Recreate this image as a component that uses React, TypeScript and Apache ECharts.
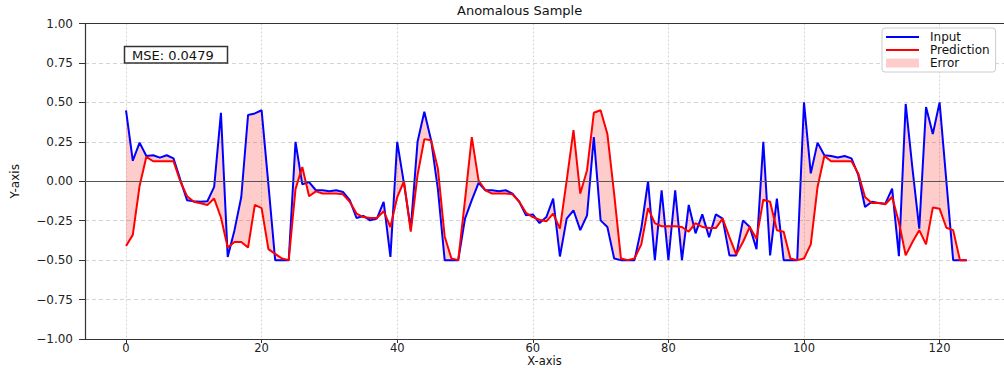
import React, { useEffect, useRef } from "react";
import * as echarts from "echarts";

const FONT = "DejaVu Sans";

const inputValues: number[] = [
  0.45, 0.13, 0.245, 0.16, 0.165, 0.15, 0.165, 0.145, 0.01, -0.12,
  -0.127, -0.13, -0.127, -0.036, 0.434, -0.48, -0.31, -0.1, 0.42, 0.43,
  0.45, -0.02, -0.5, -0.5, -0.5, 0.25, -0.02, -0.005, -0.057, -0.057,
  -0.064, -0.057, -0.068, -0.12, -0.233, -0.22, -0.248, -0.237, -0.13, -0.48,
  0.25, -0.015, -0.3, 0.25, 0.44, 0.26, -0.05, -0.5, -0.5, -0.5,
  -0.237, -0.12, -0.01, -0.057, -0.057, -0.064, -0.057, -0.078, -0.13, -0.216,
  -0.21, -0.265, -0.227, -0.11, -0.477, -0.237, -0.184, -0.31, -0.216, 0.28,
  -0.248, -0.29, -0.49, -0.5, -0.5, -0.5, -0.3, 0.0, -0.5, -0.057,
  -0.5, -0.057, -0.5, -0.15, -0.33, -0.21, -0.354, -0.21, -0.237, -0.47,
  -0.47, -0.248, -0.29, -0.43, 0.25, -0.47, -0.11, -0.5, -0.5, -0.5,
  0.5, 0.05, 0.245, 0.165, 0.16, 0.15, 0.16, 0.145, 0.04, -0.163,
  -0.13, -0.138, -0.142, -0.047, -0.475, 0.49, 0.08, -0.3, 0.47, 0.3,
  0.5, 0.0, -0.5, -0.5, -0.5,
];

const predictionValues: number[] = [
  -0.41, -0.34, -0.03, 0.155, 0.127, 0.127, 0.127, 0.127, 0.0, -0.095,
  -0.13, -0.14, -0.15, -0.11, -0.23, -0.42, -0.385, -0.385, -0.42, -0.15,
  -0.17, -0.43, -0.46, -0.49, -0.5, -0.05, 0.09, -0.095, -0.064, -0.078,
  -0.078, -0.078, -0.083, -0.13, -0.205, -0.227, -0.233, -0.233, -0.19, -0.29,
  -0.1, 0.0, -0.32, 0.04, 0.267, 0.26, 0.08, -0.35, -0.49, -0.5,
  -0.12, 0.28, 0.005, -0.057, -0.078, -0.078, -0.078, -0.083, -0.13, -0.2,
  -0.227, -0.244, -0.254, -0.205, -0.3, 0.005, 0.324, -0.078, 0.07, 0.434,
  0.45, 0.3, -0.08, -0.49, -0.5, -0.49, -0.4, -0.17, -0.265, -0.286,
  -0.286, -0.286, -0.29, -0.32, -0.265, -0.29, -0.297, -0.297, -0.237, -0.354,
  -0.464, -0.385, -0.29, -0.364, -0.117, -0.13, -0.31, -0.32, -0.49, -0.5,
  -0.49, -0.4, -0.036, 0.16, 0.127, 0.127, 0.127, 0.127, 0.05, -0.1,
  -0.138, -0.138, -0.146, -0.1, -0.26, -0.47, -0.385, -0.31, -0.4, -0.167,
  -0.174, -0.295, -0.31, -0.5, -0.5,
];

const xTicks: number[] = [0, 20, 40, 60, 80, 100, 120];
const seriesNames = ["Input", "Prediction", "Error"];
const titleText = "Anomalous Sample";
const mseText = "MSE: 0.0479";
const xName = "X-axis";
const yName = "Y-axis";

const fmtY = (v: number) => v.toFixed(2).replace("-", "\u2212");

export default function App() {
  const ref = useRef<HTMLDivElement>(null);

  useEffect(() => {
    if (!ref.current) return;
    const chart = echarts.init(ref.current, undefined, { renderer: "svg" });

    const inputData = inputValues.map((v, i) => [i, v]);
    const predData = predictionValues.map((v, i) => [i, v]);

    const option: any = {
      animation: false,
      backgroundColor: "#ffffff",
      title: {
        text: titleText,
        left: 457,
        top: 4,
        padding: 0,
        textStyle: { fontFamily: FONT, fontSize: 13, fontWeight: "normal", color: "#111" },
      },
      legend: {
        orient: "vertical",
        left: 882,
        top: 28,
        itemWidth: 33,
        itemHeight: 9,
        itemGap: 1,
        padding: [3, 6, 3, 4],
        borderColor: "#cccccc",
        borderWidth: 1,
        borderRadius: 3,
        backgroundColor: "#ffffff",
        textStyle: { fontFamily: FONT, fontSize: 12, color: "#111", padding: [0, 0, 0, 6] },
        data: [
          { name: seriesNames[0], icon: "path://M0,0L33,0L33,2L0,2Z" },
          { name: seriesNames[1], icon: "path://M0,0L33,0L33,2L0,2Z" },
          { name: seriesNames[2], icon: "rect" },
        ],
      },
      grid: {
        left: 85,
        right: 0,
        top: 23.5,
        bottom: 29,
        containLabel: false,
        outerBoundsMode: "none",
      },
      xAxis: [
        {
          type: "value",
          min: -6.05,
          max: 129.5,
          minInterval: 20,
          maxInterval: 20,
          name: xName,
          nameLocation: "middle",
          nameGap: 16,
          nameMoveOverlap: false,
          nameTextStyle: { fontFamily: FONT, fontSize: 11.5, color: "#111", lineHeight: 12 },
          axisLine: { show: true, onZero: false, lineStyle: { color: "#333", width: 1.2 } },
          axisTick: { show: true, length: 4, customValues: xTicks, lineStyle: { color: "#333" } },
          axisLabel: {
            margin: 3,
            fontFamily: FONT,
            fontSize: 11.5,
            lineHeight: 12,
            color: "#222",
            customValues: xTicks,
            formatter: (v: number) => (Math.abs(v % 20) < 1e-6 ? String(Math.round(v)) : ""),
          },
          splitLine: { show: true, lineStyle: { color: "#d4d4d4", type: [2, 2], width: 1 } },
        },
        {
          type: "value",
          position: "top",
          min: -6.05,
          max: 129.5,
          axisLine: { show: true, onZero: false, lineStyle: { color: "#333", width: 1.2 } },
          axisTick: { show: false },
          axisLabel: { show: false },
          splitLine: { show: false },
        },
      ],
      yAxis: {
        type: "value",
        min: -1,
        max: 1,
        interval: 0.25,
        name: yName,
        nameLocation: "middle",
        nameGap: 64,
        nameMoveOverlap: false,
        nameTextStyle: { fontFamily: FONT, fontSize: 12, color: "#111" },
        axisLine: { show: true, onZero: false, lineStyle: { color: "#333", width: 1.2 } },
        axisTick: { show: true, length: 6, lineStyle: { color: "#333" } },
        axisLabel: { margin: 12, fontFamily: FONT, fontSize: 12, color: "#222", formatter: fmtY },
        splitLine: { show: true, lineStyle: { color: "#d4d4d4", type: [4, 3], width: 1 } },
      },
      series: [
        {
          name: seriesNames[2],
          type: "custom",
          silent: true,
          itemStyle: { color: "rgba(255,0,0,0.2)" },
          data: [[0, 0]],
          renderItem: (_params: any, api: any) => {
            const pts: number[][] = [];
            for (let i = 0; i < inputValues.length; i++) pts.push(api.coord([i, inputValues[i]]));
            for (let i = predictionValues.length - 1; i >= 0; i--) pts.push(api.coord([i, predictionValues[i]]));
            return {
              type: "polygon",
              shape: { points: pts },
              style: { fill: "rgba(255,0,0,0.2)", stroke: "none" },
            };
          },
        },
        {
          name: seriesNames[0],
          type: "line",
          data: inputData,
          symbol: "none",
          color: "#0000ff",
          lineStyle: { color: "#0000ff", width: 2 },
          markLine: {
            silent: true,
            symbol: ["none", "none"],
            label: { show: false },
            lineStyle: { color: "#555", type: "solid", width: 1.2 },
            data: [{ yAxis: 0 }],
          },
        },
        {
          name: seriesNames[1],
          type: "line",
          data: predData,
          symbol: "none",
          color: "#ff0000",
          lineStyle: { color: "#ff0000", width: 2 },
        },
      ],
      graphic: [
        {
          type: "rect",
          shape: { x: 124.5, y: 46.5, width: 103, height: 16.5 },
          style: { fill: "#ffffff", stroke: "#333", lineWidth: 1.5 },
          z: 100,
        },
        {
          type: "text",
          x: 132,
          y: 55,
          z: 101,
          style: {
            text: mseText,
            fontFamily: FONT,
            fontSize: 13,
            fill: "#111",
            verticalAlign: "middle",
            align: "left",
          },
        },
      ],
    };

    chart.setOption(option);
    return () => chart.dispose();
  }, []);

  return (
    <div
      ref={ref}
      style={{ position: "fixed", left: 0, top: 0, width: 1004, height: 368, background: "#fff" }}
    />
  );
}
